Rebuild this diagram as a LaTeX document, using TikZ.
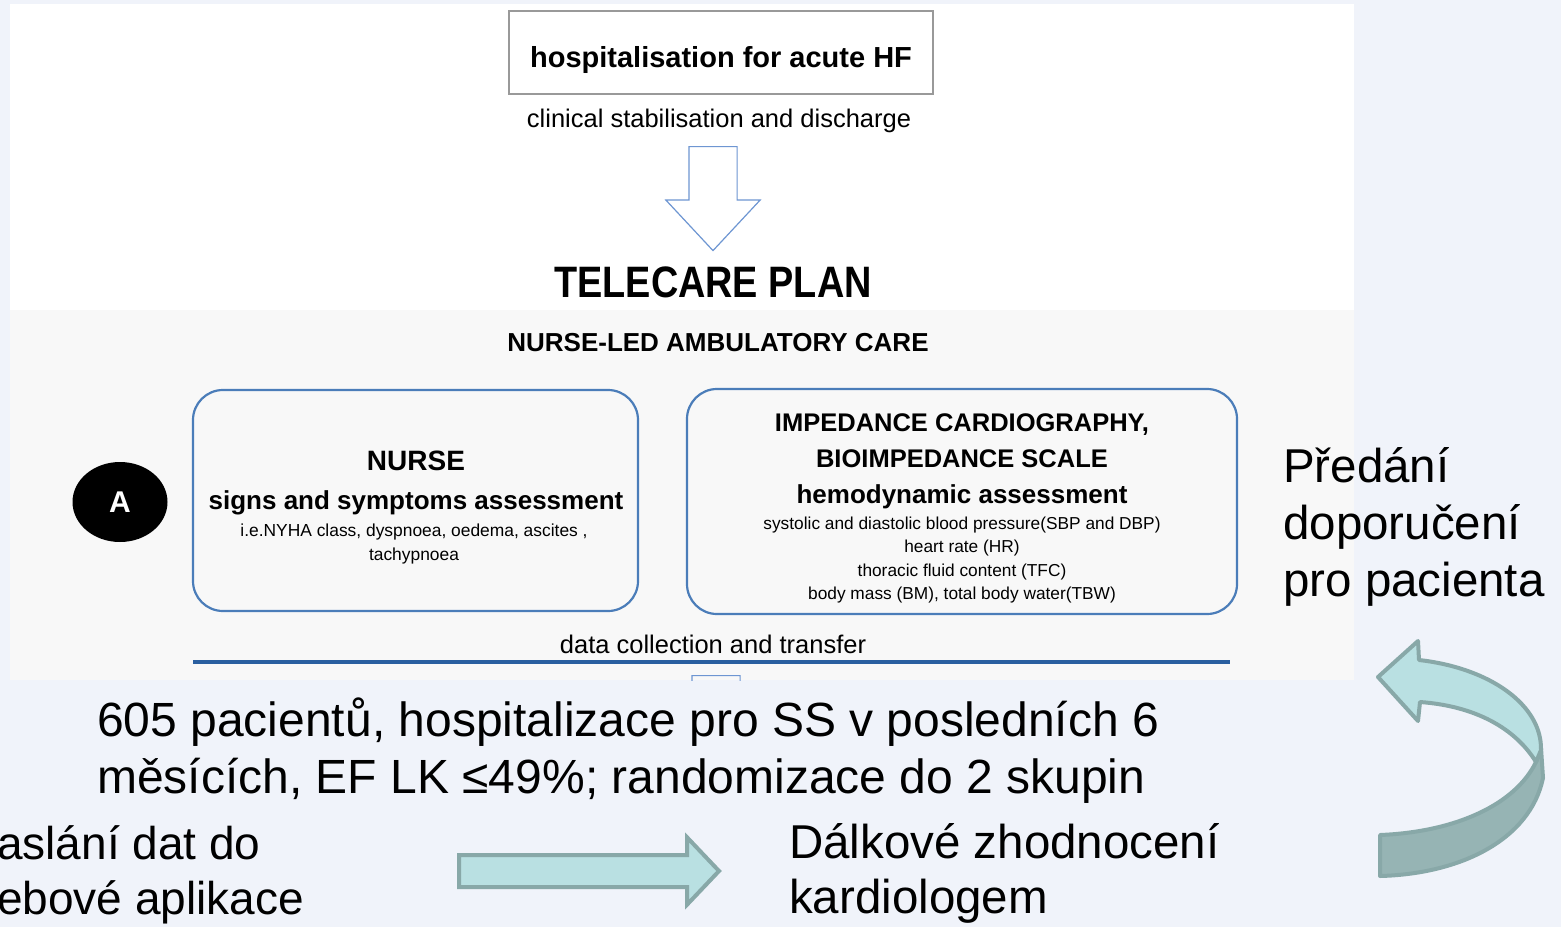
\documentclass[tikz,border=0pt]{standalone}
\usepackage{fontspec}
\setmainfont{Liberation Sans}
\newfontfamily\condfont[FakeStretch=0.86]{Liberation Sans}
\usetikzlibrary{shapes.geometric,shapes.arrows,positioning}
\definecolor{slideBg}  {RGB}{240,243,250}
\definecolor{figGrey}  {RGB}{248,248,248}
\definecolor{boxBlue}  {RGB}{75,125,185}
\definecolor{ruleBlue} {RGB}{42,95,160}
\definecolor{arrowBlue}{RGB}{110,150,210}
\definecolor{tealFill} {RGB}{185,224,226}
\definecolor{tealDark} {RGB}{150,180,180}
\definecolor{tealLine} {RGB}{136,168,168}
\newcommand{\setfs}[2]{\fontsize{#1}{#2}\selectfont}

\begin{document}
\begin{tikzpicture}[x=1pt,y=-1pt,
    every node/.style={inner sep=0pt},
    hfbox/.style={draw=black!40,line width=1.5pt,minimum width=424pt,minimum height=83pt},
    assessbox/.style={draw=boxBlue,line width=2.2pt,rounded corners=30pt},
    hollowarrow/.style={single arrow,draw=arrowBlue,line width=1.2pt,rotate=-90,
        minimum height=104pt,inner xsep=0pt,inner ysep=23.5pt,
        single arrow head extend=23pt,single arrow tip angle=86},
    tealarrow/.style={single arrow,fill=tealFill,draw=tealLine,line width=4pt,
        minimum height=260pt,inner xsep=0pt,inner ysep=14pt,
        single arrow head extend=17.5pt,single arrow tip angle=93},
    cztext/.style={align=left,font=\setfs{47.5}{57}}
  ]

    \useasboundingbox (0,0) rectangle (1561,927);
    \fill[slideBg] (0,0) rectangle (1561,927);

    % vlozeny obrazek
    \fill[white] (10,4) rectangle (1354,310);
    \fill[figGrey] (10,310) rectangle (1354,680);

    \node[hfbox,font=\bfseries\setfs{29}{34},text height=36pt,text depth=6pt] (hf) at (721,52.5)
      {hospitalisation for acute HF};
    \node[font=\setfs{25.5}{30}] (stab) at (719,121) {clinical stabilisation and discharge};
    \node[hollowarrow,anchor=tail] (down) at (713,146) {};
    \node[font=\condfont\bfseries\setfs{44}{50}] (telecare) at (713,282) {TELECARE PLAN};
    \node[font=\bfseries\setfs{26}{30}] (nurseled) at (718,343) {NURSE-LED AMBULATORY CARE};

    \node[ellipse,fill=black,minimum width=95pt,minimum height=80pt,
          text=white,font=\bfseries\setfs{30}{34}] (markA) at (120,502) {A};

    % box sestra
    \node[assessbox,minimum width=445pt,minimum height=221pt] (nurseBox) at (415.5,500.5) {};
    \node[font=\bfseries\setfs{28}{32}] (nurseTitle) at (416,461) {NURSE};
    \node[font=\bfseries\setfs{26}{30}] (nurseSub) at (416,503) {signs and symptoms assessment};
    \node[font=\setfs{17.4}{24},align=center] (nurseDesc) at (414,544)
      {i.e.NYHA class, dyspnoea, oedema, ascites ,\\tachypnoea};

    % box impedance
    \node[assessbox,minimum width=550pt,minimum height=225pt] (icgBox) at (962,501.5) {};
    \node[font=\bfseries\setfs{25.5}{36},align=center] (icgTitle) at (962,441)
      {IMPEDANCE CARDIOGRAPHY,\\BIOIMPEDANCE SCALE};
    \node[font=\bfseries\setfs{26}{30}] (icgSub) at (962,497) {hemodynamic assessment};
    \node[font=\setfs{17.3}{23.5},align=center] (icgDesc) at (962,560)
      {systolic and diastolic blood pressure(SBP and DBP)\\heart rate (HR)\\
       thoracic fluid content (TFC)\\body mass (BM), total body water(TBW)};

    \node[font=\setfs{25.5}{30}] (transfer) at (713,644) {data collection and transfer};
    \coordinate (ruleL) at (193,662);
    \coordinate (ruleR) at (1230,662);
    \draw[ruleBlue,line width=4pt] (ruleL) -- (ruleR);

    % useknuta sipka
    \begin{scope}
      \clip (10,4) rectangle (1354,680);
      \node[hollowarrow,anchor=tail] (downCut) at (716,675) {};
    \end{scope}

    % texty ze slidu
    \node[cztext,anchor=north west,font=\setfs{48}{57}] (study) at (97,698)
      {605 pacientů, hospitalizace pro SS v posledních 6\\měsících, EF LK ≤49\%; randomizace do 2 skupin};
    \node[cztext,anchor=north west,font=\setfs{46}{55}] (send) at (-3,825)
      {aslání dat do\\ebové aplikace};
    \node[tealarrow,anchor=tail] (sendArrow) at (457,871) {};
    \node[cztext,anchor=north west,font=\setfs{47.5}{55}] (remote) at (789,823)
      {Dálkové zhodnocení\\kardiologem};
    \node[cztext,anchor=north west] (advice) at (1283,447)
      {Předání\\doporučení\\pro pacienta};

    % zahnuta sipka
    \filldraw[fill=tealDark,draw=tealLine,line width=4pt,line join=round]
      (1541,748) -- (1543,778) .. controls (1530,840) and (1460,874) .. (1380,876)
      -- (1380,835) .. controls (1455,832) and (1515,805) .. (1536,762) -- cycle;
    \filldraw[fill=tealFill,draw=tealLine,line width=4pt,line join=round]
      (1378,677) -- (1418,641) -- (1419,660) .. controls (1490,668) and (1542,705) .. (1541,750)
      -- (1536,762) .. controls (1515,728) and (1475,706) .. (1420,702)
      -- (1418,721) -- cycle;

\end{tikzpicture}
\end{document}
